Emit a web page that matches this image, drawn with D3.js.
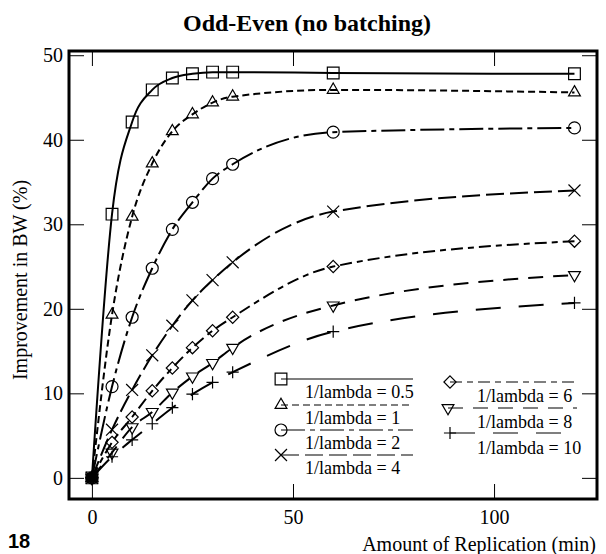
<!DOCTYPE html>
<html>
<head>
<meta charset="utf-8">
<script src="https://cdn.jsdelivr.net/npm/d3@7"></script>
<style>
  body { margin: 0; background: #fff; }
  .chart-container svg { display: block; }
  text { font-family: "Liberation Serif", "DejaVu Serif", serif; fill: #000; }
</style>
</head>
<body>
<div class="chart-container"></div>
<script>
// values
const replication = [0, 5, 10, 15, 20, 25, 30, 35, 60, 120];

const lambda05 = [0, 31.2, 42.1, 45.9, 47.3, 47.8, 48.0, 48.0, 47.9, 47.8];
const lambda1  = [0, 19.3, 30.9, 37.2, 41.0, 43.0, 44.4, 45.1, 45.9, 45.6];
const lambda2  = [0, 10.8, 19.0, 24.8, 29.4, 32.6, 35.4, 37.1, 40.9, 41.4];
const lambda4  = [0, 5.7, 10.4, 14.5, 18.0, 21.0, 23.4, 25.5, 31.5, 34.0];
const lambda6  = [0, 4.2, 7.2, 10.3, 13.0, 15.4, 17.4, 19.0, 25.0, 28.0];
const lambda8  = [0, 3.0, 6.0, 7.8, 10.1, 12.0, 13.6, 15.4, 20.4, 24.0];
const lambda10 = [0, 2.5, 4.5, 6.4, 8.3, 9.9, 11.3, 12.5, 17.3, 20.7];

const seriesLabels = ['1/lambda = 0.5', '1/lambda = 1', '1/lambda = 2', '1/lambda = 4',
                      '1/lambda = 6', '1/lambda = 8', '1/lambda = 10'];

const xTicks = [0, 50, 100];
const yTicks = [0, 10, 20, 30, 40, 50];

const width = 606, height = 554;
const frame = { left: 69, right: 597, top: 51, bottom: 499 };

const svg = d3.select('.chart-container')
  .append('svg')
  .attr('width', width)
  .attr('height', height);

const x = d3.scaleLinear().domain([-5.7, 125.6]).range([frame.left, frame.right]);
const y = d3.scaleLinear().domain([-2.5, 50.5]).range([frame.bottom, frame.top]);

// marker shapes + dash styles, one per series
const markers = [
  { sym: d3.symbolSquare2, size: 175, rot: 0 },
  { sym: d3.symbolTriangle2, size: 100, rot: 0 },
  { sym: d3.symbolCircle, size: 113, rot: 0 },
  { sym: d3.symbolTimes, size: 95, rot: 0 },
  { sym: d3.symbolDiamond2, size: 95, rot: 0 },
  { sym: d3.symbolTriangle2, size: 100, rot: 180 },
  { sym: d3.symbolPlus, size: 50, rot: 0 }
];
const dashes = ['none', '7,4', '24,5,5,5', '18,6', '12,5,6,5', '15,10', '25,18'];

const allSeries = [lambda05, lambda1, lambda2, lambda4, lambda6, lambda8, lambda10];

const line = d3.line()
  .x((d, i) => x(replication[i]))
  .y(d => y(d))
  .curve(d3.curveMonotoneX);

function drawMarker(g, k, px, py) {
  g.append('path')
    .attr('d', d3.symbol().type(markers[k].sym).size(markers[k].size)())
    .attr('transform', `translate(${px},${py}) rotate(${markers[k].rot})`)
    .attr('fill', 'none')
    .attr('stroke', '#000')
    .attr('stroke-width', 1.2);
}

// title
svg.append('text')
  .attr('x', 307)
  .attr('y', 31)
  .attr('text-anchor', 'middle')
  .style('font-size', '24px')
  .style('font-weight', 'bold')
  .text('Odd-Even (no batching)');

// axes (ticks point inwards)
const axisFont = g => g.selectAll('text').style('font-size', '20px')
  .style('font-family', '"Liberation Serif", serif');

svg.append('g')
  .attr('transform', `translate(0,${frame.bottom})`)
  .call(d3.axisBottom(x).tickValues(xTicks).tickSize(-15).tickPadding(11))
  .call(g => g.select('.domain').remove())
  .call(axisFont);

svg.append('g')
  .attr('transform', `translate(0,${frame.top})`)
  .call(d3.axisTop(x).tickValues(xTicks).tickSize(-15).tickFormat(''))
  .call(g => g.select('.domain').remove());

svg.append('g')
  .attr('transform', `translate(${frame.left},0)`)
  .call(d3.axisLeft(y).tickValues(yTicks).tickSize(-15).tickPadding(6))
  .call(g => g.select('.domain').remove())
  .call(axisFont);

svg.append('g')
  .attr('transform', `translate(${frame.right},0)`)
  .call(d3.axisRight(y).tickValues(yTicks).tickSize(-15).tickFormat(''))
  .call(g => g.select('.domain').remove());

svg.selectAll('.tick line').attr('stroke', '#000').attr('stroke-width', 1);

// frame
svg.append('rect')
  .attr('x', frame.left)
  .attr('y', frame.top)
  .attr('width', frame.right - frame.left)
  .attr('height', frame.bottom - frame.top)
  .attr('fill', 'none')
  .attr('stroke', '#000')
  .attr('stroke-width', 3);

// axis titles
svg.append('text')
  .attr('x', 596)
  .attr('y', 551)
  .attr('text-anchor', 'end')
  .style('font-size', '20px')
  .text('Amount of Replication (min)');

svg.append('text')
  .attr('transform', 'translate(27,280) rotate(-90)')
  .attr('text-anchor', 'middle')
  .style('font-size', '20px')
  .text('Improvement in BW (%)');

svg.append('text')
  .attr('x', 8)
  .attr('y', 548)
  .style('font-family', '"Liberation Sans", Arial, sans-serif')
  .style('font-size', '20px')
  .style('font-weight', 'bold')
  .text('18');

// series
const plot = svg.append('g');
allSeries.forEach((vals, k) => {
  plot.append('path')
    .datum(vals)
    .attr('d', line)
    .attr('fill', 'none')
    .attr('stroke', '#000')
    .attr('stroke-width', 2)
    .attr('stroke-dasharray', dashes[k]);
  vals.forEach((v, i) => drawMarker(plot, k, x(replication[i]), y(v)));
});

// overlapping markers at the origin print as a dark blob
plot.append('rect')
  .attr('x', x(0) - 5).attr('y', y(0) - 5)
  .attr('width', 10).attr('height', 10)
  .attr('fill', '#000');

// legend, two columns
const legendPos = [
  { mx: 281, my: 379, end: 413, tx: 305, ty: 398 },
  { mx: 281, my: 405, end: 413, tx: 305, ty: 424 },
  { mx: 281, my: 430, end: 413, tx: 305, ty: 449 },
  { mx: 281, my: 455, end: 413, tx: 305, ty: 474 },
  { mx: 450, my: 382, end: 577, tx: 477, ty: 402 },
  { mx: 448, my: 408, end: 577, tx: 477, ty: 428 },
  { mx: 450, my: 433, end: 577, tx: 477, ty: 454 }
];

const legend = svg.append('g');
seriesLabels.forEach((label, k) => {
  const p = legendPos[k];
  legend.append('line')
    .attr('x1', p.mx).attr('x2', p.end)
    .attr('y1', p.my).attr('y2', p.my)
    .attr('stroke', '#000')
    .attr('stroke-width', 1.2)
    .attr('stroke-dasharray', dashes[k]);
  drawMarker(legend, k, p.mx, p.my);
  legend.append('text')
    .attr('x', p.tx)
    .attr('y', p.ty)
    .style('font-size', '18px')
    .text(label);
});
</script>
</body>
</html>
